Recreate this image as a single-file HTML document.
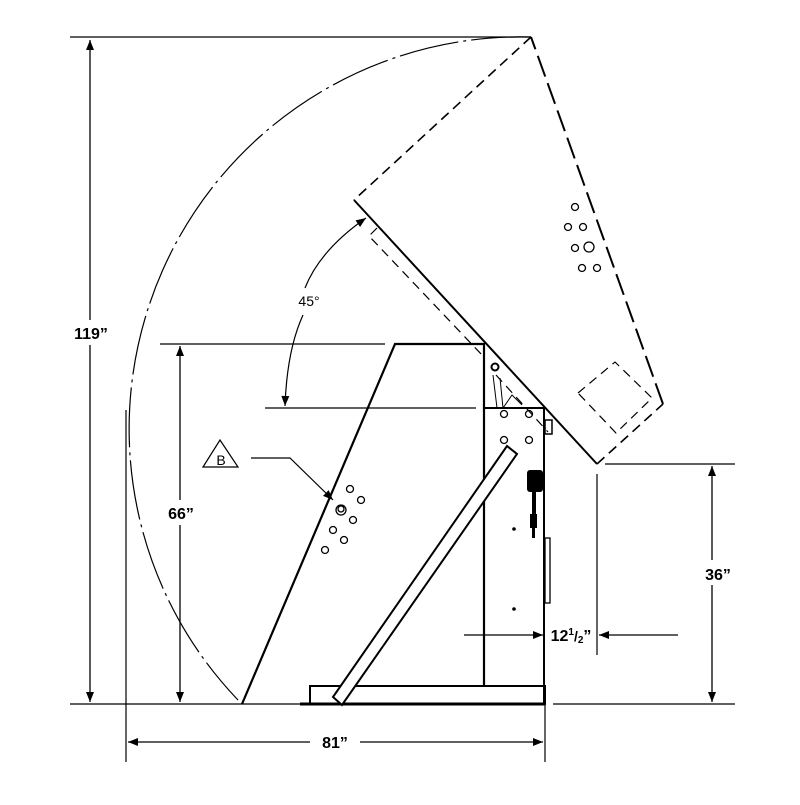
<!DOCTYPE html>
<html><head><style>html,body{margin:0;padding:0;background:#fff}</style></head><body>
<svg width="800" height="800" viewBox="0 0 800 800" xmlns="http://www.w3.org/2000/svg" font-family="'Liberation Sans',sans-serif">
<defs>
<marker id="a" viewBox="0 0 10 10" refX="10" refY="5" markerWidth="16" markerHeight="8" markerUnits="userSpaceOnUse" orient="auto"><path d="M0,0 L10,5 L0,10z" fill="#000"/></marker>
<marker id="s" viewBox="0 0 10 10" refX="10" refY="5" markerWidth="22" markerHeight="10" markerUnits="userSpaceOnUse" orient="auto"><path d="M0,1 L10,5 L0,9z" fill="#000"/></marker>
</defs>
<g fill="none" stroke="#000">
<!-- extension lines -->
<line x1="70" y1="37" x2="531" y2="37" stroke-width="1.2"/>
<line x1="70" y1="704" x2="300" y2="704" stroke-width="1.2"/>
<line x1="553" y1="704" x2="735" y2="704" stroke-width="1.2"/>
<line x1="160" y1="344" x2="385" y2="344" stroke-width="1.2"/>
<line x1="265" y1="408" x2="476" y2="408" stroke-width="1.2"/>
<line x1="605" y1="464" x2="735" y2="464" stroke-width="1.2"/>
<line x1="126" y1="410" x2="126" y2="762" stroke-width="1.2"/>
<line x1="545" y1="704" x2="545" y2="762" stroke-width="1.2"/>
<line x1="597" y1="474" x2="597" y2="655" stroke-width="1.2"/>
<!-- dims -->
<line x1="90" y1="320" x2="90" y2="40" stroke-width="1.3" marker-end="url(#s)"/>
<line x1="90" y1="345" x2="90" y2="702" stroke-width="1.3" marker-end="url(#s)"/>
<line x1="180" y1="500" x2="180" y2="346" stroke-width="1.3" marker-end="url(#s)"/>
<line x1="180" y1="525" x2="180" y2="702" stroke-width="1.3" marker-end="url(#s)"/>
<line x1="712" y1="560" x2="712" y2="466" stroke-width="1.3" marker-end="url(#s)"/>
<line x1="712" y1="585" x2="712" y2="702" stroke-width="1.3" marker-end="url(#s)"/>
<line x1="310" y1="742" x2="128" y2="742" stroke-width="1.3" marker-end="url(#s)"/>
<line x1="360" y1="742" x2="543" y2="742" stroke-width="1.3" marker-end="url(#s)"/>
<line x1="464" y1="635" x2="543" y2="635" stroke-width="1.3" marker-end="url(#s)"/>
<line x1="678" y1="635" x2="599" y2="635" stroke-width="1.3" marker-end="url(#s)"/>
<!-- 45 arc -->
<path d="M305,288 Q320,250 366,218" stroke-width="1.2" marker-end="url(#s)"/>
<path d="M303,315 Q287,350 285,406" stroke-width="1.2" marker-end="url(#s)"/>
<!-- swing arc -->
<path d="M531,37 A392,392 0 0 0 238,700" stroke-width="1.2" stroke-dasharray="60,5,3,5"/>
<!-- tipped hopper -->
<path d="M531,37 L354,200" stroke-width="1.6" stroke-dasharray="10,6"/>
<path d="M354,200 L597,464" stroke-width="2"/>
<path d="M597,464 L663,404" stroke-width="1.6" stroke-dasharray="10,6"/>
<path d="M663,404 L531,37" stroke-width="2" stroke-dasharray="22,7"/>
<path d="M377,228 L369,236 L482,355 M496,375 L548,432" stroke-width="1.2" stroke-dasharray="9,6"/>
<path d="M578,393 L615,362 L652,398 L616,433 Z" stroke-width="1.2" stroke-dasharray="9,6"/>
<!-- body -->
<path d="M242,704 L395,344 L484,344 L484,686" stroke-width="2.2"/>
<path d="M484,408 L544,408 L544,704" stroke-width="2"/>
<rect x="310" y="686" width="235" height="18" stroke-width="2"/>
<line x1="300" y1="704" x2="545" y2="704" stroke-width="3"/>
<path d="M333,697 L507,446 L517,454 L342,705 Z" stroke-width="2" fill="#fff"/>
<rect x="545" y="420" width="7" height="14" stroke-width="1.5"/>
<rect x="545" y="538" width="5" height="65" stroke-width="1.3"/>
<path d="M493,375 L497,408 M500,378 L503,408 M503,408 L512,395 L522,405" stroke-width="1"/>
<circle cx="495" cy="367" r="3.5" stroke-width="2"/>
<g stroke-width="1.3">
<circle cx="504" cy="414" r="3.5"/><circle cx="529" cy="414" r="3.5"/>
<circle cx="504" cy="440" r="3.5"/><circle cx="529" cy="440" r="3.5"/>
<circle cx="350" cy="489" r="3.5"/><circle cx="361" cy="500" r="3.5"/><circle cx="353" cy="520" r="3.5"/>
<circle cx="333" cy="530" r="3.5"/><circle cx="344" cy="540" r="3.5"/><circle cx="325" cy="550" r="3.5"/>
<circle cx="341" cy="510" r="5"/><circle cx="341" cy="509" r="3"/>
<circle cx="575" cy="207" r="3.5"/><circle cx="568" cy="227" r="3.5"/><circle cx="583" cy="227" r="3.5"/>
<circle cx="575" cy="248" r="3.5"/><circle cx="582" cy="268" r="3.5"/><circle cx="597" cy="268" r="3.5"/>
<circle cx="589" cy="247" r="5"/>
</g>
</g>
<!-- actuator -->
<rect x="527" y="470" width="16" height="22" rx="3" fill="#000"/>
<rect x="532" y="492" width="4" height="22" fill="#000"/>
<rect x="530" y="514" width="7" height="14" fill="#000"/>
<rect x="532" y="528" width="3" height="10" fill="#000"/>
<circle cx="514" cy="529" r="1.8" fill="#000"/><circle cx="514" cy="609" r="1.8" fill="#000"/>
<!-- B callout -->
<path d="M203,467 L220,440 L238,467 Z" fill="none" stroke="#000" stroke-width="1.2"/>
<text x="221" y="465" font-size="14" text-anchor="middle">B</text>
<path d="M251,458 L290,458 L333,500" fill="none" stroke="#000" stroke-width="1.2" marker-end="url(#s)"/>
<!-- labels -->
<g font-weight="bold" font-size="16" text-anchor="middle">
<text x="91" y="339" fill="#000">119”</text>
<text x="181" y="519">66”</text>
<text x="718" y="580">36”</text>
<text x="335" y="748">81”</text>
<text x="571" y="641">12<tspan font-size="10" dy="-6">1</tspan><tspan font-size="14" dy="6">/</tspan><tspan font-size="10" dy="2">2</tspan><tspan dy="-2">”</tspan></text>
</g>
<rect x="298" y="292" width="28" height="20" fill="#fff"/>
<text x="309" y="306" font-size="14" text-anchor="middle">45°</text>
</svg>
</body></html>
